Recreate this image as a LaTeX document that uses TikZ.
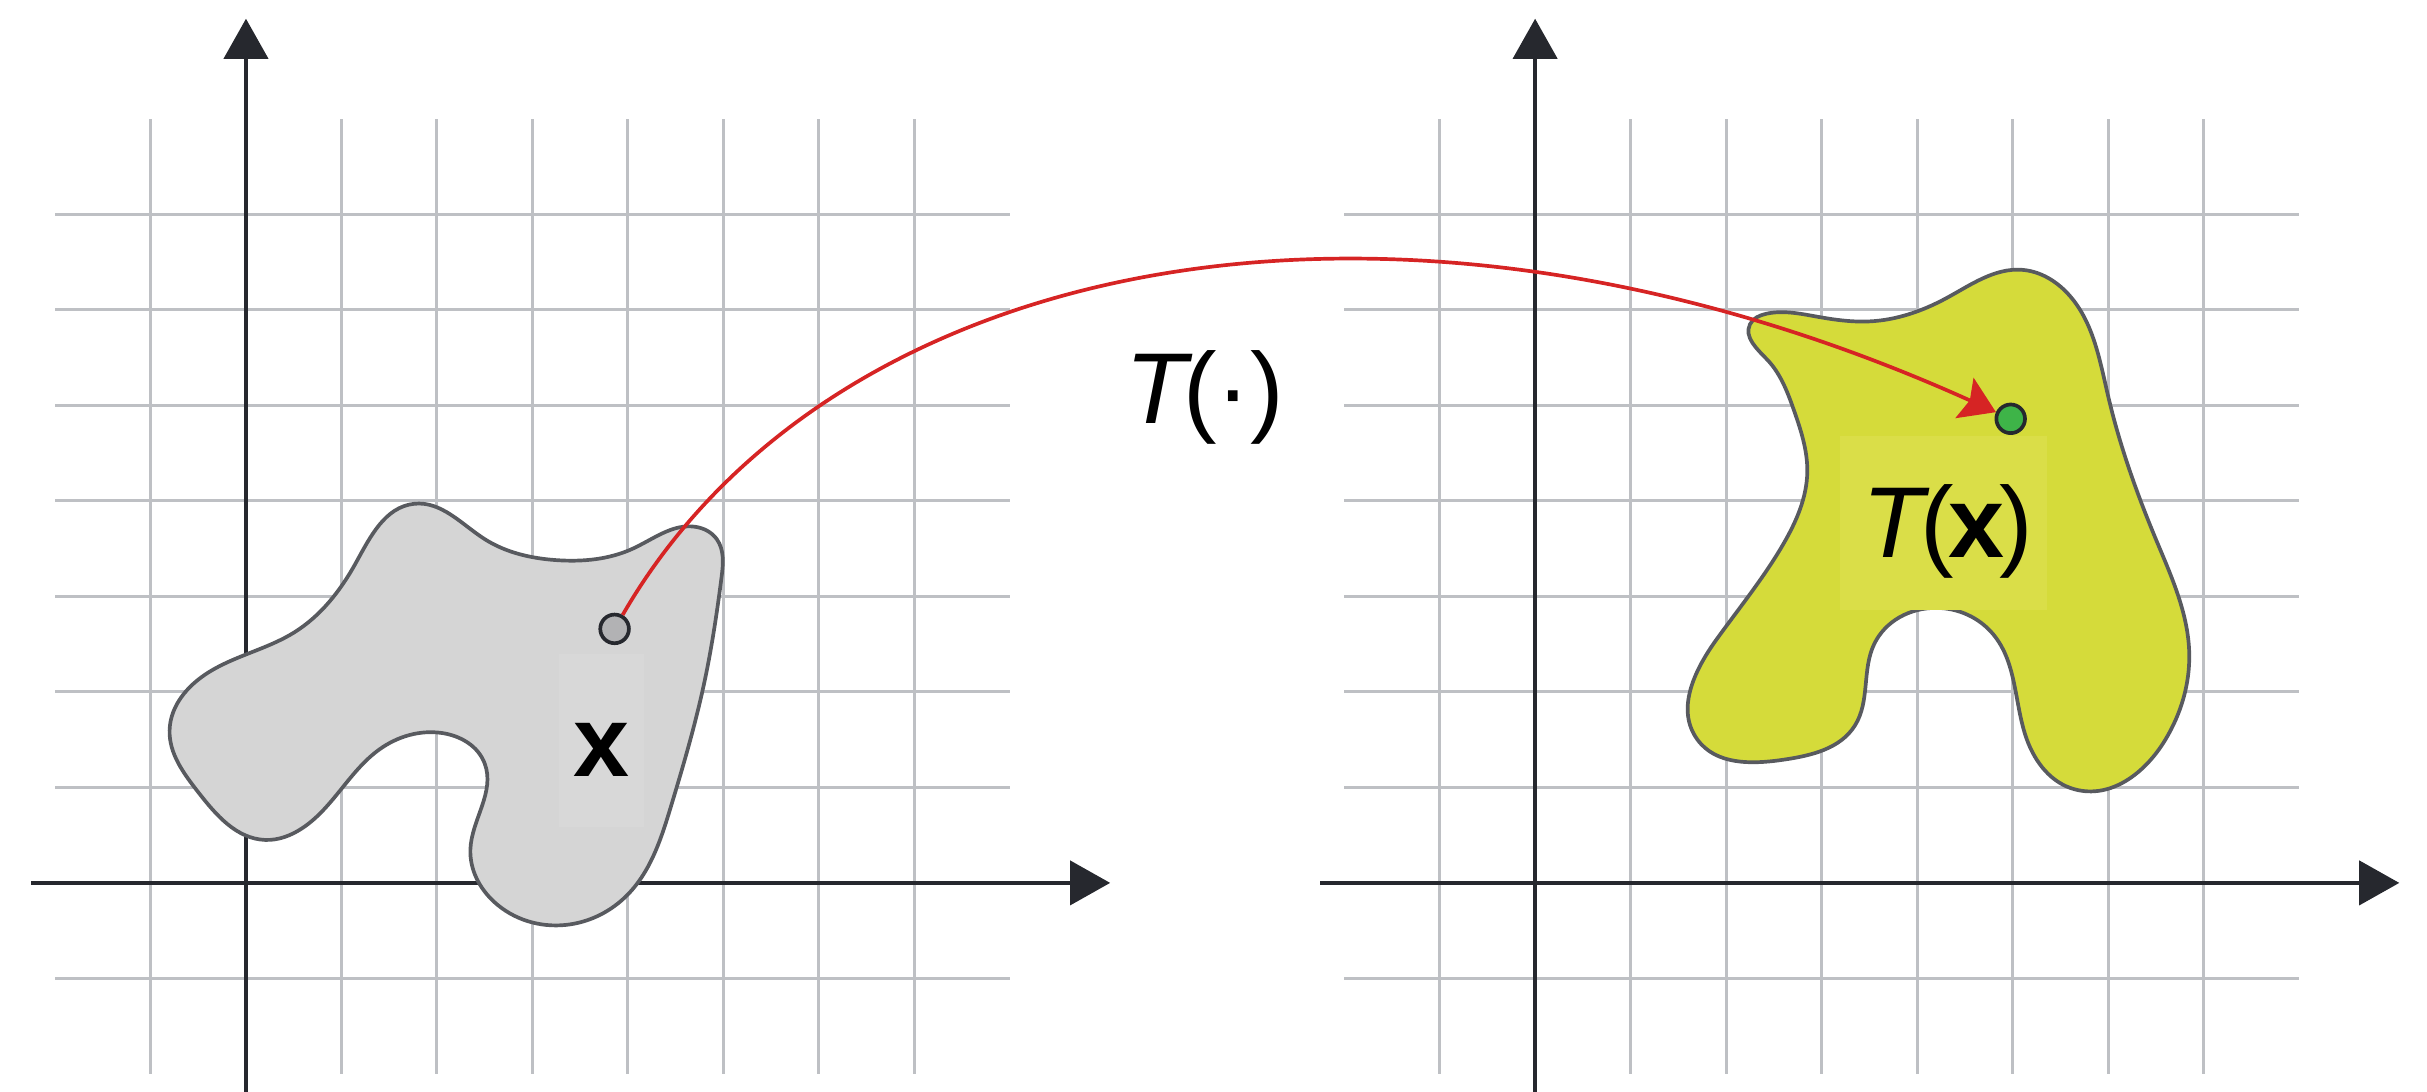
\documentclass[tikz,border=0pt]{standalone}
\usepackage{fontspec}
\setmainfont{Liberation Sans}
\usetikzlibrary{arrows.meta, hobby}

\definecolor{gridgray}{RGB}{190,192,196}
\definecolor{axisdark}{RGB}{38,40,46}
\definecolor{edgegray}{RGB}{88,90,95}
\definecolor{blobgray}{RGB}{213,213,213}
\definecolor{boxgray}{RGB}{216,216,216}
\definecolor{blobyellow}{RGB}{213,219,58}
\definecolor{boxyellow}{RGB}{218,222,72}
\definecolor{dotgray}{RGB}{178,178,180}
\definecolor{dotgreen}{RGB}{62,180,72}
\definecolor{mapred}{RGB}{214,36,36}

\begin{document}
\begin{tikzpicture}[
  gridln/.style={draw=gridgray, line width=0.9pt},
  axisln/.style={draw=axisdark, line width=1.3pt,
    -{Triangle[length=4.2mm, width=4.6mm]}},
  blob/.style={draw=edgegray, line width=1.1pt, use Hobby shortcut, closed=true},
  pt/.style={circle, draw=axisdark, line width=1.1pt, minimum size=0.3cm, inner sep=0pt},
  lbl/.style={inner sep=0pt, font=\fontsize{30}{36}\selectfont},
  maparrow/.style={draw=mapred, line width=1.1pt,
    -{Stealth[length=3.6mm, width=4.6mm, inset=0.6mm]}},
]
  \useasboundingbox (-2.576,-2.188) rectangle (22.84,9.246);

  % 两个坐标系：网格和坐标轴，右边的平移 13.5
  \foreach \ox in {0,13.5}{
    \begin{scope}[xshift=\ox cm]
      \foreach \k in {-1,...,7}{
        \draw[gridln] (\k,-2) -- (\k,8);
        \draw[gridln] (-2,\k) -- (8,\k);
      }
      \draw[axisln] (-2.25,0) -- (9.05,0);
      \draw[axisln] (0,-2.188) -- (0,9.05);
    \end{scope}
  }

  % 左边的区域和点 x
  \draw[blob, fill=blobgray] (1.76,3.97) .. (2.5,3.6) .. (3.25,3.38) .. (4.05,3.5)
    .. (4.7,3.73) .. (4.93,3.6) .. (4.98,3.2) .. (4.8,2.1) .. (4.45,0.8) .. (4.0,-0.12)
    .. (3.35,-0.44) .. (2.6,-0.2) .. (2.35,0.35) .. (2.5,1.25) .. (2.05,1.57)
    .. (1.4,1.4) .. (0.6,0.58) .. (0.2,0.45) .. (-0.5,0.95) .. (-0.8,1.6)
    .. (-0.4,2.2) .. (0.5,2.62) .. (1.15,3.35);
  \node[lbl, fill=boxgray, anchor=base, minimum width=0.89cm,
        text height=1.29cm, text depth=0.52cm] (xlab) at (3.725,1.11) {\textbf{x}};
  \node[pt, fill=dotgray] (ptx) at (3.86,2.66) {};

  % 右边的区域和点 T(x)
  \begin{scope}[xshift=13.5cm]
    \draw[blob, fill=blobyellow] (2.42,5.96) .. (2.95,5.93) .. (3.5,5.88) .. (4.3,6.12)
      .. (5.1,6.42) .. (5.55,6.2) .. (6.0,5.1) .. (6.5,3.6) .. (6.85,2.4)
      .. (6.6,1.5) .. (5.65,0.98) .. (5.15,1.5) .. (4.8,2.6) .. (4.2,2.88)
      .. (3.55,2.5) .. (3.35,1.65) .. (2.6,1.29) .. (1.7,1.5) .. (1.9,2.55)
      .. (2.6,3.55) .. (2.85,4.3) .. (2.71,4.95) .. (2.43,5.48) .. (2.25,5.85);
    \node[lbl, fill=boxyellow, anchor=base, minimum width=2.17cm,
          text height=1.27cm, text depth=0.55cm] (Txlab) at (4.275,3.41)
          {\hspace*{0.1cm}\textit{T}\kern-0.1em(\kern-0.05em\textbf{x}\kern-0.05em)};
    \node[pt, fill=dotgreen] (pty) at (4.98,4.86) {};
  \end{scope}

  % 映射箭头
  \draw[maparrow] (ptx) .. controls (6.11,6.56) and (11.96,7.80) .. (pty);
  \node[lbl, anchor=base] (Tmap) at (10.04,4.81) {\textit{T}\kern-0.1em(·)};
\end{tikzpicture}
\end{document}
